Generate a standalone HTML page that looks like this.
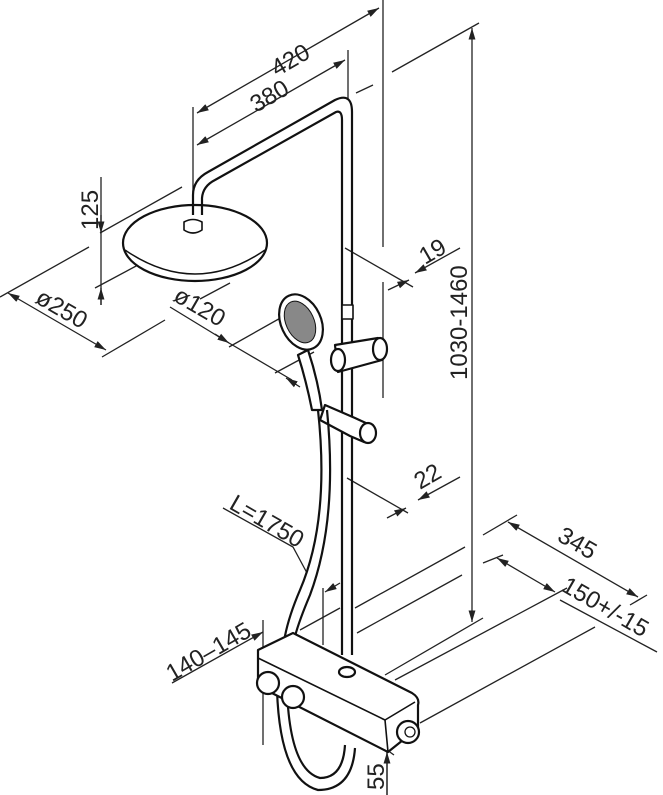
<!DOCTYPE html>
<html><head><meta charset="utf-8"><style>
html,body{margin:0;padding:0;background:#fff;}
svg{display:block;}
text{font-family:"Liberation Sans",sans-serif;font-size:24px;fill:#222;}
</style></head><body>
<svg width="663" height="795" viewBox="0 0 663 795" xmlns="http://www.w3.org/2000/svg">
<defs>
<marker id="a" viewBox="0 0 10 10" refX="10" refY="5" markerWidth="9" markerHeight="9" orient="auto-start-reverse"><path d="M0,2 L10,5 L0,8 z" fill="#222"/></marker>
</defs>
<g stroke="#222" stroke-width="1.3" fill="none">
<line x1="197" y1="113" x2="379" y2="8" marker-start="url(#a)" marker-end="url(#a)"/>
<line x1="197" y1="145" x2="345" y2="60" marker-start="url(#a)" marker-end="url(#a)"/>
<line x1="193" y1="107" x2="193" y2="213"/>
<line x1="348" y1="50" x2="348" y2="100"/>
<line x1="383" y1="0" x2="383" y2="247"/>
<line x1="383" y1="282" x2="383" y2="398"/>
<line x1="356" y1="93" x2="373" y2="85"/>
<line x1="392" y1="72" x2="479" y2="23"/>
<line x1="472" y1="28" x2="472" y2="622" marker-start="url(#a)" marker-end="url(#a)"/>
<line x1="101" y1="177" x2="101" y2="305"/>
<line x1="101" y1="215" x2="101" y2="233" marker-end="url(#a)"/>
<line x1="101" y1="305" x2="101" y2="288" marker-end="url(#a)"/>
<line x1="100" y1="233" x2="182" y2="187"/>
<line x1="95" y1="288" x2="138" y2="265"/>
<line x1="0" y1="297" x2="89" y2="247"/>
<line x1="102" y1="357" x2="165" y2="320"/>
<line x1="8" y1="293" x2="106" y2="350" marker-start="url(#a)" marker-end="url(#a)"/>
<line x1="170" y1="307" x2="229" y2="343" />
<line x1="229" y1="343" x2="292" y2="380" />
<line x1="200" y1="299" x2="230" y2="283"/>
<line x1="229" y1="347" x2="284" y2="316"/>
<line x1="275" y1="373" x2="314" y2="352"/>
<line x1="215" y1="334" x2="229" y2="343" marker-end="url(#a)"/>
<line x1="300" y1="387" x2="286" y2="378" marker-end="url(#a)"/>
<line x1="345" y1="248" x2="413" y2="287"/>
<line x1="388" y1="290" x2="409" y2="280" marker-end="url(#a)"/>
<line x1="460" y1="248" x2="415" y2="273" marker-end="url(#a)"/>
<line x1="347" y1="478" x2="408" y2="513"/>
<line x1="387" y1="518" x2="406" y2="508" marker-end="url(#a)"/>
<line x1="460" y1="477" x2="418" y2="500" marker-end="url(#a)"/>
<polyline points="223,508 293,547 307,573"/>
<line x1="508" y1="522" x2="638" y2="597" marker-start="url(#a)" marker-end="url(#a)"/>
<line x1="483" y1="535" x2="517" y2="515"/>
<line x1="630" y1="605" x2="647" y2="595"/>
<line x1="497" y1="558" x2="555" y2="592" marker-start="url(#a)" marker-end="url(#a)"/>
<line x1="560" y1="600" x2="657" y2="652"/>
<line x1="483" y1="563" x2="503" y2="555"/>
<line x1="395" y1="680" x2="567" y2="588"/>
<line x1="355" y1="608" x2="465" y2="547"/>
<line x1="357" y1="633" x2="462" y2="575"/>
<line x1="385" y1="675" x2="483" y2="618"/>
<line x1="420" y1="723" x2="595" y2="627"/>
<line x1="172" y1="683" x2="263" y2="632" marker-end="url(#a)"/>
<line x1="263" y1="620" x2="263" y2="745"/>
<line x1="323" y1="588" x2="323" y2="645"/>
<line x1="340" y1="583" x2="325" y2="592" marker-end="url(#a)"/>
<line x1="300" y1="630" x2="340" y2="608"/>
<line x1="387" y1="713" x2="387" y2="795"/>
<line x1="387" y1="700" x2="387" y2="745" marker-end="url(#a)"/>
<line x1="387" y1="795" x2="387" y2="752" marker-end="url(#a)"/>
<line x1="380" y1="745" x2="394" y2="755"/>
</g>

<g stroke="#111" stroke-width="2.2" fill="#fff" stroke-linejoin="round">
<ellipse cx="195" cy="243" rx="72" ry="38"/>
<path d="M125,250 Q195,298 265,250" fill="none" stroke-width="1.5"/>
<path d="M184,230 L184,222 Q193,217 202,222 L202,230 Q193,236 184,230z" stroke-width="1.6"/>
<path d="M193,215 L193,195 Q193,180 208,172 L335,100 Q352,92 352,112 L352,655" fill="none"/>
<path d="M202,215 L202,198 Q203,186 215,180 L336,112 Q342,110 342,120 L342,655" fill="none"/>
<rect x="342" y="305" width="11" height="14" stroke-width="1.6"/>
<path d="M335,345 L378,338 L382,360 L338,372z"/>
<ellipse cx="380" cy="349" rx="7" ry="11"/>
<ellipse cx="338" cy="360" rx="7" ry="11"/>
<path d="M325,405 L355,418 L368,424 L364,442 L350,436 L320,420z"/>
<ellipse cx="368" cy="433" rx="8" ry="10"/>
<path d="M308,350 Q318,380 322,410 L312,410 Q306,380 298,355z"/>
<ellipse cx="301" cy="322" rx="20" ry="29" transform="rotate(-25 301 322)"/>
<ellipse cx="300" cy="322" rx="14" ry="22" transform="rotate(-25 300 322)" fill="#888" stroke-width="1"/>
<path d="M318,410 Q330,520 300,590 Q285,625 283,650" fill="none"/>
<path d="M327,410 Q338,520 310,595 Q296,628 293,645" fill="none"/>
<path d="M277,690 Q280,780 318,790 Q352,790 355,748" fill="none"/>
<path d="M287,690 Q290,770 320,778 Q343,778 345,745" fill="none"/>
<path d="M258,650 L293,633 L412,693 Q420,698 418,705 L418,728 L388,752 L262,688 Q257,684 258,678z"/>
<path d="M258,658 L385,720 L415,702" fill="none" stroke-width="1.6"/>
<path d="M385,720 L388,752" fill="none" stroke-width="1.6"/>
<ellipse cx="347" cy="672" rx="8" ry="5"/>
<circle cx="268" cy="683" r="11"/>
<circle cx="293" cy="697" r="11"/>
<circle cx="408" cy="732" r="11"/>
<circle cx="410" cy="732" r="5" stroke-width="1.3"/>
</g>

<g>
<text transform="translate(277,77) rotate(-30)">420</text>
<text transform="translate(256,113) rotate(-30)">380</text>
<text transform="translate(467,380) rotate(-90)">1030-1460</text>
<text transform="translate(98,230) rotate(-90)">125</text>
<text transform="translate(34,302) rotate(30)">ø250</text>
<text transform="translate(172,300) rotate(30)">ø120</text>
<text transform="translate(425,265) rotate(-30)">19</text>
<text transform="translate(420,490) rotate(-30)">22</text>
<text transform="translate(228,508) rotate(30)">L=1750</text>
<text transform="translate(556,540) rotate(30)">345</text>
<text transform="translate(560,590) rotate(30)">150+/-15</text>
<text transform="translate(172,682) rotate(-30)">140–145</text>
<text transform="translate(384,790) rotate(-90)">55</text>
</g>
</svg>
</body></html>
